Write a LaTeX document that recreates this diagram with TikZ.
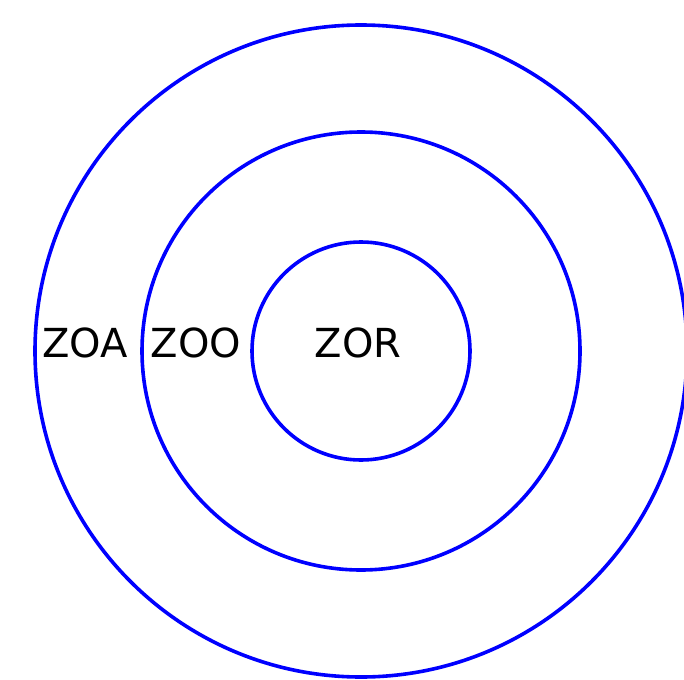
\documentclass[tikz,border=0pt]{standalone}
\usepackage{fontspec}
\setmainfont{DejaVu Sans}
\tikzset{
    ring/.style={draw=blue, line width=3.6pt},
    zone/.style={inner sep=0pt, font=\fontsize{40}{46}\selectfont}
}
\begin{document}
\begin{tikzpicture}[x=1pt,y=-1pt]
    \useasboundingbox (0,0) rectangle (684,679);
    \clip (0,0) rectangle (684,679);
    \coordinate (c) at (361,351);
    % rings: outer, middle, inner
    \draw[ring] (c) circle[radius=326];
    \draw[ring] (c) circle[radius=219];
    \draw[ring] (c) circle[radius=109];
    \node[zone] (zoa) at (85,343) {ZOA};
    \node[zone] (zoo) at (196,343) {ZOO};
    \node[zone] (zor) at (358,343) {ZOR};
\end{tikzpicture}
\end{document}
